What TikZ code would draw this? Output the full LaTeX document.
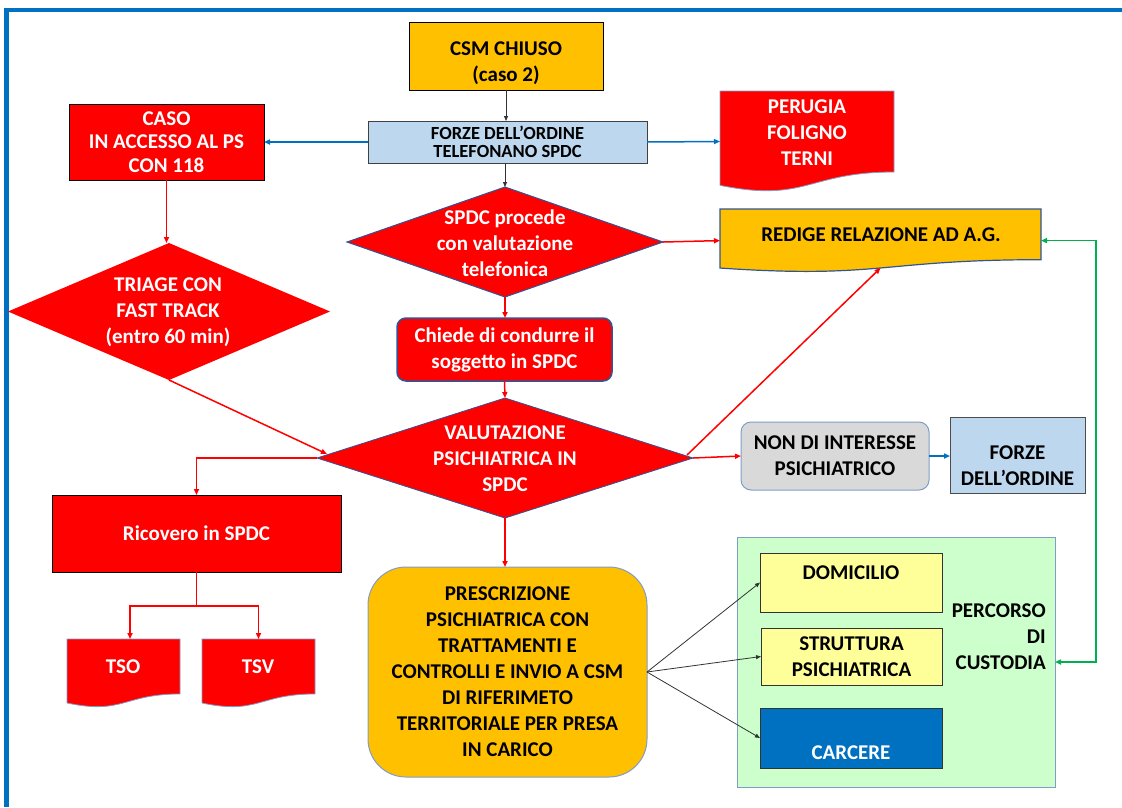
\documentclass[tikz,border=0pt]{standalone}
\usepackage{fontspec}
\setmainfont{Carlito}
\usetikzlibrary{shapes.geometric,arrows.meta,calc}
\definecolor{pred}{HTML}{FF0000}
\definecolor{porange}{HTML}{FFC000}
\definecolor{plblue}{HTML}{BDD7EE}
\definecolor{pgrey}{HTML}{D9D9D9}
\definecolor{pgreen}{HTML}{CCFFCC}
\definecolor{pyellow}{HTML}{FFFF99}
\definecolor{pblue}{HTML}{0070C0}
\definecolor{pdark}{HTML}{2F5597}
\definecolor{pslate}{HTML}{7F9DC7}
\definecolor{parrgreen}{HTML}{00B050}
\newcommand\docshape[2]{%
  \filldraw[#1] (#2.north west) -- (#2.north east) -- ($(#2.north east)!0.802!(#2.south east)$)
    .. controls ($(#2.north)!0.802!(#2.south)$) and ($(#2.north)!1.1075!(#2.south)$) ..
    ($(#2.north west)!0.934!(#2.south west)$) -- cycle;}
\begin{document}
\begin{tikzpicture}[x=1pt,y=-1pt,
  basefont/.style={font=\bfseries\fontsize{21}{26}\selectfont},
  boxnode/.style={rectangle, inner sep=0pt, outer sep=0pt, align=center, basefont},
  txt/.style={inner sep=0pt, align=center, basefont},
  ddiamond/.style={diamond, inner sep=0pt, outer sep=0pt, fill=pred},
  redarr/.style={draw=pred, line width=1.5pt, -{Triangle[length=6pt,width=5pt]}},
  redline/.style={draw=pred, line width=1.5pt},
  bluearr/.style={draw=pblue, line width=1.5pt, -{Triangle[length=6pt,width=5pt]}},
  blackarr/.style={draw=black!80, line width=0.8pt, -{Triangle[length=5pt,width=4pt]}},
]
\useasboundingbox (0,0) rectangle (1122,807);
% frame
\fill[pblue] (4,7.5) rectangle (1122,12);
\fill[pblue] (4,7.5) rectangle (9,807);

% top
\node[boxnode, fill=porange, draw=black, line width=0.8pt, minimum width=194pt, minimum height=68pt] (csm) at (506,56) {};
\node[txt] (csmt) at (506,63.5) {CSM CHIUSO\\(caso 2)};
\node[boxnode, fill=plblue, draw=black!75, line width=1pt, minimum width=279pt, minimum height=42pt,
  font=\bfseries\fontsize{18.5}{18}\selectfont] (ford) at (507.5,142) {FORZE DELL’ORDINE\\TELEFONANO SPDC};
\node[boxnode, fill=pred, draw=black, line width=0.8pt, minimum width=195pt, minimum height=76pt, text=white,
  font=\bfseries\fontsize{21}{23.5}\selectfont] (caso) at (166.5,142) {CASO\\IN ACCESSO AL PS\\CON 118};

\node[boxnode, minimum width=174pt, minimum height=101pt] (per) at (807,141.5) {};
\docshape{fill=pred, draw=pslate, line width=0.8pt}{per}
\node[txt, text=white] (pert) at (807,132.5) {PERUGIA\\FOLIGNO\\TERNI};

\node[ddiamond, draw=pdark, line width=1pt, minimum width=316pt, minimum height=110pt] (d1) at (505,242) {};
\node[txt, text=white] (d1t) at (505,243) {SPDC procede\\con valutazione\\telefonica};

\node[boxnode, minimum width=321pt, minimum height=63.2pt] (redige) at (880.5,240.6) {};
\docshape{fill=porange, draw=pdark, line width=1.2pt}{redige}
\node[txt] (redt) at (881,235) {REDIGE RELAZIONE AD A.G.};

\node[ddiamond, minimum width=322pt, minimum height=137pt] (tri) at (169,311.5) {};
\node[txt, text=white] (trit) at (168,312) {TRIAGE CON\\FAST TRACK\\(entro 60 min)};

\node[boxnode, fill=pred, draw=pdark, line width=1.5pt, rounded corners=9pt, minimum width=215pt, minimum height=63pt, text=white] (chiede) at (504.5,349.5) {Chiede di condurre il\\soggetto in SPDC};

\node[ddiamond, draw=pdark, line width=0.8pt, minimum width=376pt, minimum height=120pt] (val) at (505,458) {};
\node[txt, text=white] (valt) at (505,458.5) {VALUTAZIONE\\PSICHIATRICA IN\\SPDC};

\node[boxnode, fill=pred, draw=black, line width=0.8pt, minimum width=289pt, minimum height=77pt, text=white] (ric) at (196.5,533.5) {Ricovero in SPDC};

\node[boxnode, minimum width=113pt, minimum height=68.5pt] (tso) at (123.5,673.25) {};
\docshape{fill=pred, draw=pslate, line width=0.8pt}{tso}
\node[txt, text=white] (tsot) at (123,667) {TSO};
\node[boxnode, minimum width=113pt, minimum height=68.5pt] (tsv) at (258.5,673.25) {};
\docshape{fill=pred, draw=pslate, line width=0.8pt}{tsv}
\node[txt, text=white] (tsvt) at (258,667) {TSV};

\node[boxnode, fill=porange, draw=pslate, line width=1pt, rounded corners=38pt, minimum width=279pt, minimum height=210pt] (pres) at (507.5,672) {PRESCRIZIONE\\PSICHIATRICA CON\\TRATTAMENTI E\\CONTROLLI E INVIO A CSM\\DI RIFERIMETO\\TERRITORIALE PER PRESA\\IN CARICO};

\node[boxnode, fill=pgrey, draw=pslate, line width=1pt, rounded corners=10pt, minimum width=188pt, minimum height=68pt] (non) at (835,456) {NON DI INTERESSE\\PSICHIATRICO};
\node[boxnode, fill=plblue, draw=black!70, line width=1pt, minimum width=135pt, minimum height=76pt] (forr) at (1017.5,455) {};
\node[txt] (forrt) at (1017.5,465.5) {FORZE\\DELL’ORDINE};

\node[boxnode, fill=pgreen, draw=pslate, line width=1pt, minimum width=318pt, minimum height=250pt] (cust) at (896,662) {};
\node[boxnode, fill=pyellow, draw=black!80, line width=0.8pt, minimum width=182pt, minimum height=59pt] (dom) at (851,582.5) {};
\node[txt] (domt) at (851,573) {DOMICILIO};
\node[boxnode, fill=pyellow, draw=black!80, line width=0.8pt, minimum width=181pt, minimum height=57pt] (str) at (851.5,656.5) {STRUTTURA\\PSICHIATRICA};
\node[boxnode, fill=pblue, draw=black!80, line width=0.8pt, minimum width=182pt, minimum height=60pt] (car) at (851,738) {};
\node[txt, text=white] (cart) at (851,753) {CARCERE};
\node[txt, align=right, anchor=east] (perc) at (1046,636.5) {PERCORSO\\DI\\CUSTODIA};

% connectors
\draw[blackarr] (csm.south) -- (csm.south|-ford.north);
\draw[blackarr] (d1.north|-ford.south) -- (d1.north);
\draw[bluearr] (ford.west) -- (caso.east);
\draw[bluearr] (ford.east) -- (per.west);
\draw[redarr] (d1.east) -- (redige.west);
\draw[redarr] (d1.south) -- (d1.south|-chiede.north);
\draw[redarr] (chiede.south) -- (val.north);
\draw[redarr] (caso.south) -- (caso.south|-tri.north);
\draw[redarr] (tri.south) -- ([shift={(10,-4)}]val.west);
\draw[redarr] (val.west) -| (ric.north);
\draw[redarr] ([shift={(-6,-3)}]val.east) -- ($(redige.north)!0.933!(redige.south)$);
\draw[redarr] (val.east) -- (non.west);
\draw[bluearr] (non.east) -- (non.east-|forr.west);
\draw[redarr] (val.south) -- (val.south|-pres.north);
\coordinate (br) at (196.5,606);
\draw[redline] (ric.south) -- (br);
\draw[redarr] (br) -| ([xshift=6.5pt]tso.north);
\draw[redarr] (br) -| (tsv.north);
\draw[blackarr] (pres.east) -- (dom.west);
\draw[blackarr] (pres.east) -- (str.west);
\draw[blackarr] (pres.east) -- (car.west);
\coordinate (gr) at (1096,240.6);
\draw[draw=parrgreen, line width=1.5pt, {Triangle[length=6pt,width=5pt]}-{Triangle[length=6pt,width=5pt]}] (redige.east) -- (gr) |- (cust.east);
\end{tikzpicture}
\end{document}
